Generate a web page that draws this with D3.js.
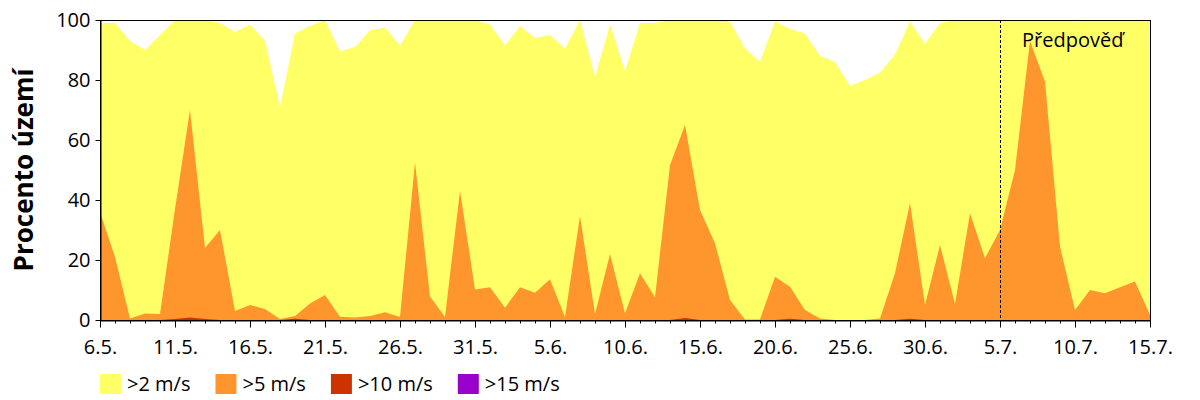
<!DOCTYPE html>
<html>
<head>
<meta charset="utf-8">
<script src="https://cdn.jsdelivr.net/npm/d3@7/dist/d3.min.js"></script>
<style>
body { margin: 0; background: #fff; }
svg { display: block; font-family: "Open Sans", "Noto Sans", sans-serif; }
</style>
</head>
<body>
<svg id="chart" width="1200" height="400"></svg>
<script>
// days 6.5. .. 15.7. (71 daily values, % of territory)
const startDay = new Date(2013, 4, 6);
const endDay = new Date(2013, 6, 15);
const forecastDay = new Date(2013, 6, 5);

const gt2 = [99, 99, 93, 90, 95, 100, 100, 100, 99, 96,
	98.5, 93, 71, 95.5, 98, 100, 89.5, 91, 96.5, 97.5,
	91.5, 100, 100, 100, 100, 100, 98.5, 91.5, 98, 94,
	95, 90.5, 100, 81, 98.5, 83, 99, 99, 100, 100,
	100, 100, 99.5, 90.5, 86, 99.5, 97, 95.5, 88, 86,
	78, 80, 82.5, 88.5, 99.5, 92, 99, 100, 100, 100,
	100, 100, 100, 100, 100, 99.5, 100, 100, 100, 100,
	100];
const gt5 = [36, 21, 0.5, 2.2, 2, 37, 70, 24, 30, 3,
	5, 3.7, 0.3, 1.3, 5.5, 8.3, 1.1, 0.8, 1.3, 2.6,
	1, 52.5, 7.8, 1, 43, 10.2, 10.9, 4.1, 10.9, 9.1,
	13.6, 1, 34.7, 2, 22, 2.2, 15.6, 7.6, 51.7, 65,
	36.7, 25.6, 6.7, 0.2, 0.2, 14.4, 11.1, 3.3, 0.5, 0,
	0, 0, 0.5, 15.6, 39, 5, 25, 5.3, 35.6, 20.6,
	30, 50, 93, 79.4, 24.4, 3.3, 10, 8.9, 10.9, 12.8,
	1.7];
const gt10 = [0, 0, 0, 0, 0, 0.3, 0.8, 0.3, 0, 0,
	0, 0, 0, 0.4, 0, 0, 0, 0, 0, 0,
	0, 0, 0, 0, 0, 0, 0, 0, 0, 0,
	0, 0, 0, 0, 0, 0, 0, 0, 0, 0.7,
	0, 0, 0, 0, 0, 0, 0.4, 0, 0, 0,
	0, 0, 0, 0, 0.4, 0, 0, 0, 0, 0,
	0, 0, 0, 0, 0, 0, 0, 0, 0, 0,
	0];
const gt15 = new Array(71).fill(0);

const seriesNames = [">2 m/s", ">5 m/s", ">10 m/s", ">15 m/s"];
const seriesColors = ["#ffff66", "#ff962d", "#cc3300", "#9900cc"];
const yTicks = [0, 20, 40, 60, 80, 100];
const forecastLabel = "Předpověď";
const yTitle = "Procento území";

const days = d3.timeDay.range(startDay, d3.timeDay.offset(endDay, 1));
const allSeries = [gt2, gt5, gt10, gt15];

const svg = d3.select("#chart");
const plotLeft = 100, plotRight = 1150, plotTop = 20, plotBottom = 320;

const x = d3.scaleTime().domain([startDay, endDay]).range([plotLeft, plotRight]);
const y = d3.scaleLinear().domain([0, 100]).range([plotBottom, plotTop]);

const area = d3.area()
	.x((d, i) => x(days[i]))
	.y0(y(0))
	.y1(d => y(d));

const gMain = svg.append("g").attr("id", "gMain");
for (var k = 0; k < allSeries.length; k++) {
	gMain.append("path")
		.datum(allSeries[k])
		.attr("d", area)
		.attr("fill", seriesColors[k])
		.attr("stroke", "none");
}

// forecast marker
svg.append("line")
	.attr("x1", Math.round(x(forecastDay)) + 0.5)
	.attr("x2", Math.round(x(forecastDay)) + 0.5)
	.attr("y1", plotTop)
	.attr("y2", plotBottom)
	.attr("stroke", "#000")
	.attr("stroke-width", 1)
	.attr("stroke-dasharray", "3,2");

svg.append("text")
	.attr("x", 1022)
	.attr("y", 47)
	.attr("font-size", 20)
	.attr("fill", "#000")
	.text(forecastLabel);

// frame
svg.append("rect")
	.attr("x", plotLeft + 0.5)
	.attr("y", plotTop + 0.5)
	.attr("width", plotRight - plotLeft)
	.attr("height", plotBottom - plotTop)
	.attr("fill", "none")
	.attr("stroke", "#000");

// axes
const majorTicks = d3.timeDay.range(startDay, d3.timeDay.offset(endDay, 1), 5);

svg.append("g")
	.attr("transform", "translate(0," + (plotBottom + 0.5) + ")")
	.call(d3.axisBottom(x).tickValues(days).tickSize(3).tickSizeOuter(0).tickFormat(""))
	.call(g => g.select(".domain").remove());

svg.append("g")
	.attr("transform", "translate(0," + (plotBottom + 0.5) + ")")
	.call(d3.axisBottom(x).tickValues(majorTicks).tickSize(7).tickSizeOuter(0).tickPadding(12)
		.tickFormat(d3.timeFormat("%-d.%-m.")))
	.call(g => g.selectAll("text").attr("font-size", 20).attr("font-family", "'Open Sans', sans-serif").attr("fill", "#000"));

svg.append("g")
	.attr("transform", "translate(" + (plotLeft + 0.5) + ",0)")
	.call(d3.axisLeft(y).tickValues(yTicks).tickSize(5).tickSizeOuter(0).tickPadding(5))
	.call(g => g.selectAll("text").attr("font-size", 20).attr("font-family", "'Open Sans', sans-serif").attr("fill", "#000"));

svg.selectAll(".domain, .tick line").attr("stroke", "#000");

// y title
svg.append("text")
	.attr("transform", "translate(33,170) rotate(-90)")
	.attr("text-anchor", "middle")
	.attr("font-size", 26)
	.attr("font-weight", "bold")
	.attr("fill", "#000")
	.text(yTitle);

// legend
const legend = svg.append("g").attr("id", "legend");
let lx = 100;
for (var j = 0; j < seriesNames.length; j++) {
	legend.append("rect")
		.attr("x", lx)
		.attr("y", 374)
		.attr("width", 21)
		.attr("height", 20)
		.attr("fill", seriesColors[j]);
	const t = legend.append("text")
		.attr("x", lx + 27)
		.attr("y", 391)
		.attr("font-size", 20)
		.attr("fill", "#000")
		.text(seriesNames[j]);
	lx = lx + 27 + t.node().getComputedTextLength() + 25;
}
</script>
</body>
</html>
